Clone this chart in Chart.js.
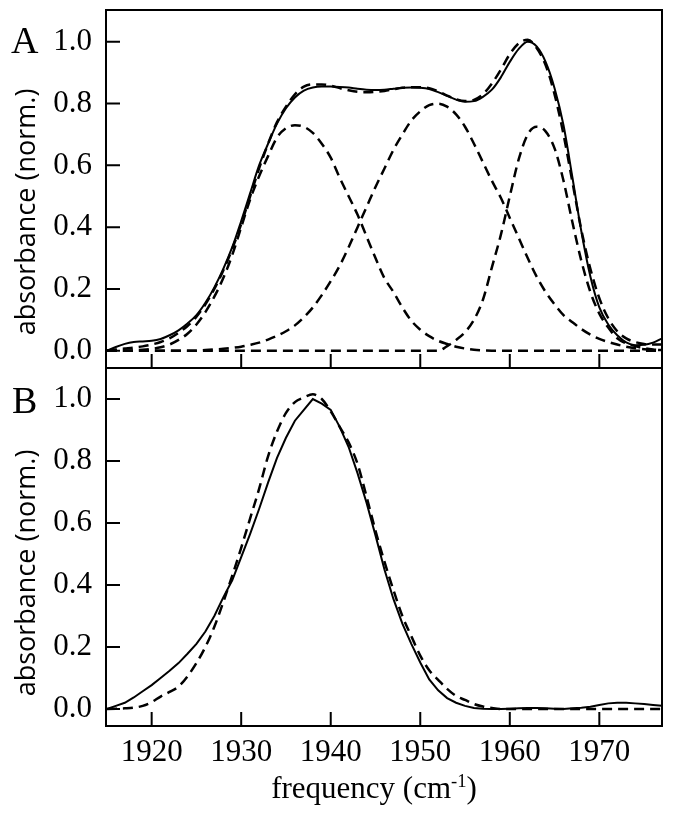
<!DOCTYPE html>
<html>
<head>
<meta charset="utf-8">
<script src="https://cdn.jsdelivr.net/npm/chart.js@4.4.1/dist/chart.umd.min.js"></script>
<style>
  html, body { margin: 0; padding: 0; background: #fff; }
  #fig { position: relative; width: 673px; height: 826px; overflow: hidden; }
  #fig canvas { position: absolute; left: 0; }
  .lbl { position: absolute; color: #000; white-space: nowrap; line-height: 1; }
  .panel { font-family: "Liberation Serif", serif; font-size: 38px; }
  .ytitle { font-family: "Open Sans", sans-serif; font-size: 27px; transform: translate(-50%, -50%) rotate(-90deg); }
  .xtitle { font-family: "Liberation Serif", serif; font-size: 31px; transform: translateX(-50%); }
  .xtitle sup { font-size: 0.6em; line-height: 0; vertical-align: 0.6em; }
</style>
</head>
<body>
<div id="fig">
  <canvas id="chartA" width="673" height="372" style="top:0"></canvas>
  <canvas id="chartB" width="673" height="466" style="top:360px"></canvas>
  <div class="lbl panel" style="left:11px; top:21px">A</div>
  <div class="lbl panel" style="left:12px; top:381px">B</div>
  <div class="lbl ytitle" style="left:24px; top:212px">absorbance (norm.)</div>
  <div class="lbl ytitle" style="left:24px; top:573px">absorbance (norm.)</div>
  <div class="lbl xtitle" style="left:374px; top:772px">frequency (cm<sup>-1</sup>)</div>
</div>
<script>
// 周波数 (cm-1)
const freq = [1915, 1916, 1917, 1918, 1919, 1920, 1921, 1922, 1923, 1924,
  1925, 1926, 1927, 1928, 1929, 1930, 1931, 1932, 1933, 1934,
  1935, 1936, 1937, 1938, 1939, 1940, 1941, 1942, 1943, 1944,
  1945, 1946, 1947, 1948, 1949, 1950, 1951, 1952, 1953, 1954,
  1955, 1956, 1957, 1958, 1959, 1960, 1961, 1962, 1963, 1964,
  1965, 1966, 1967, 1968, 1969, 1970, 1971, 1972, 1973, 1974,
  1975, 1976, 1977]

// パネルA: 測定スペクトル
const absA = [0.0, 0.012, 0.022, 0.028, 0.03, 0.032, 0.038, 0.05, 0.066, 0.088,
  0.115, 0.155, 0.205, 0.265, 0.335, 0.42, 0.51, 0.6, 0.67, 0.735,
  0.785, 0.82, 0.842, 0.852, 0.855, 0.855, 0.854, 0.852, 0.848, 0.845,
  0.844, 0.845, 0.848, 0.851, 0.852, 0.851, 0.847, 0.837, 0.825, 0.813,
  0.806, 0.808, 0.822, 0.845, 0.885, 0.935, 0.977, 1.0, 0.985, 0.935,
  0.85, 0.73, 0.56, 0.385, 0.24, 0.14, 0.085, 0.05, 0.027, 0.018,
  0.019, 0.026, 0.04]

// パネルA: フィット (合計)
const fitA = [0.0, 0.004, 0.007, 0.01, 0.014, 0.02, 0.028, 0.04, 0.058, 0.08,
  0.11, 0.15, 0.2, 0.26, 0.33, 0.41, 0.5, 0.59, 0.67, 0.74,
  0.79, 0.83, 0.855, 0.862, 0.862, 0.858, 0.85, 0.843, 0.838, 0.837,
  0.838, 0.841, 0.846, 0.851, 0.853, 0.853, 0.85, 0.84, 0.826, 0.814,
  0.808, 0.812, 0.83, 0.865, 0.91, 0.96, 0.995, 1.007, 0.98, 0.925,
  0.83, 0.7, 0.545, 0.39, 0.265, 0.17, 0.105, 0.063, 0.04, 0.028,
  0.022, 0.02, 0.02]

// パネルA: 成分バンド
const bandA1 = [0, 0, 0, 0.001, 0.003, 0.006, 0.011, 0.02, 0.035, 0.055,
  0.085, 0.125, 0.175, 0.235, 0.31, 0.4, 0.49, 0.565, 0.63, 0.69,
  0.72, 0.73, 0.725, 0.705, 0.67, 0.625, 0.56, 0.5, 0.44, 0.37,
  0.3, 0.235, 0.19, 0.14, 0.097, 0.068, 0.047, 0.032, 0.022, 0.013,
  0.007, 0.003, 0.001, 0, 0, 0, 0, 0, 0, 0,
  0, 0, 0, 0, 0, 0, 0, 0, 0, 0,
  0, 0, 0]

const bandA2 = [0, 0, 0, 0, 0, 0, 0, 0, 0, 0,
  0, 0.002, 0.004, 0.006, 0.009, 0.013, 0.019, 0.026, 0.036, 0.048,
  0.063, 0.082, 0.108, 0.14, 0.18, 0.225, 0.275, 0.335, 0.4, 0.465,
  0.53, 0.59, 0.65, 0.7, 0.745, 0.775, 0.795, 0.8, 0.79, 0.765,
  0.725, 0.67, 0.61, 0.55, 0.495, 0.43, 0.365, 0.3, 0.24, 0.19,
  0.15, 0.115, 0.092, 0.07, 0.052, 0.038, 0.028, 0.02, 0.013, 0.008,
  0.005, 0.003, 0.002]

const bandA3 = [0, 0, 0, 0, 0, 0, 0, 0, 0, 0,
  0, 0, 0, 0, 0, 0, 0, 0, 0, 0,
  0, 0, 0, 0, 0, 0, 0, 0, 0, 0,
  0, 0, 0, 0, 0, 0, 0, 0, 0.015, 0.035,
  0.06, 0.1, 0.165, 0.27, 0.375, 0.5, 0.62, 0.7, 0.725, 0.71,
  0.655, 0.55, 0.415, 0.29, 0.19, 0.12, 0.075, 0.04, 0.024, 0.015,
  0.008, 0.004, 0.002]

// パネルB: 測定とフィット
const absB = [0.0, 0.01, 0.02, 0.037, 0.057, 0.077, 0.1, 0.123, 0.148, 0.178,
  0.21, 0.25, 0.3, 0.36, 0.415, 0.49, 0.565, 0.645, 0.73, 0.81,
  0.875, 0.93, 0.965, 1.0, 0.985, 0.965, 0.91, 0.845, 0.76, 0.665,
  0.56, 0.45, 0.355, 0.275, 0.21, 0.15, 0.095, 0.06, 0.035, 0.02,
  0.01, 0.003, 0.001, 0, 0, 0.001, 0.002, 0.003, 0.003, 0.002,
  0.001, 0, 0.002, 0.004, 0.007, 0.013, 0.018, 0.02, 0.02, 0.018,
  0.016, 0.013, 0.01]

const fitB = [0, 0.001, 0.002, 0.004, 0.01, 0.022, 0.04, 0.055, 0.072, 0.105,
  0.148, 0.2, 0.265, 0.345, 0.43, 0.52, 0.615, 0.71, 0.815, 0.895,
  0.955, 0.99, 1.005, 1.015, 1.0, 0.96, 0.91, 0.86, 0.79, 0.685,
  0.575, 0.475, 0.384, 0.3, 0.235, 0.172, 0.125, 0.094, 0.065, 0.042,
  0.029, 0.016, 0.008, 0.003, 0, 0, 0, 0, 0, 0,
  0, 0, 0, 0, 0, 0, 0, 0, 0, 0,
  0, 0, 0]

// 目盛ラベル
const xTickLabels = [1920, 1930, 1940, 1950, 1960, 1970]
const yTickLabels = [0.0, 0.2, 0.4, 0.6, 0.8, 1.0]

const serif = "'Liberation Serif', 'Times New Roman', serif"

function pts(ys) {
  return freq.map((x, i) => ({ x, y: ys[i] }))
}

function solid(ys, smooth) {
  return {
    data: pts(ys),
    borderColor: "#000",
    borderWidth: 2,
    pointRadius: 0,
    fill: false,
    cubicInterpolationMode: smooth ? "monotone" : "default",
    tension: 0,
  }
}

function dashed(ys) {
  return {
    data: pts(ys),
    borderColor: "#000",
    borderWidth: 2.5,
    borderDash: [10, 6],
    pointRadius: 0,
    fill: false,
    cubicInterpolationMode: "monotone",
  }
}

// 枠と内向きの目盛
const framePlugin = {
  id: "frame",
  afterDraw(chart) {
    const { ctx, chartArea: a, scales } = chart
    ctx.save()
    ctx.strokeStyle = "#000"
    ctx.lineWidth = 2
    ctx.strokeRect(a.left, a.top, a.right - a.left, a.bottom - a.top)
    ctx.beginPath()
    scales.x.ticks.forEach((t) => {
      if (Math.abs(t.value % 2) > 1e-6) return
      const len = t.value % 10 === 0 ? 14 : 7
      const px = scales.x.getPixelForValue(t.value)
      ctx.moveTo(px, a.bottom)
      ctx.lineTo(px, a.bottom - len)
    })
    scales.y.ticks.forEach((t) => {
      const k = Math.round(t.value * 10)
      if (Math.abs(t.value * 10 - k) > 1e-6 || k < 0 || k > 10) return
      const len = k % 2 === 0 ? 14 : 7
      const py = scales.y.getPixelForValue(t.value)
      ctx.moveTo(a.left, py)
      ctx.lineTo(a.left + len, py)
    })
    ctx.stroke()
    ctx.restore()
  },
}

function makeOptions(showX, yMin, yMax, padTop, padBottom) {
  return {
    responsive: false,
    animation: false,
    layout: { padding: { top: padTop, right: 11, bottom: padBottom, left: 0 } },
    plugins: { legend: { display: false }, tooltip: { enabled: false } },
    scales: {
      x: {
        type: "linear",
        min: 1914.9,
        max: 1977,
        grid: { display: false, drawTicks: false },
        border: { display: false },
        ticks: {
          display: showX,
          stepSize: 2,
          includeBounds: false,
          autoSkip: false,
          maxRotation: 0,
          padding: 8,
          color: "#000",
          font: { family: serif, size: 31 },
          callback: (v) => (xTickLabels.includes(v) ? String(v) : null),
        },
        afterFit: (s) => {
          s.height = showX ? 100 : 0
          s.paddingLeft = 0
          s.paddingRight = 0
        },
      },
      y: {
        min: yMin,
        max: yMax,
        grid: { display: false, drawTicks: false },
        border: { display: false },
        ticks: {
          stepSize: 0.1,
          includeBounds: false,
          autoSkip: false,
          padding: 14,
          color: "#000",
          font: { family: serif, size: 31 },
          callback: (v) => {
            const hit = yTickLabels.find((t) => Math.abs(t - v) < 1e-6)
            return hit === undefined ? null : hit.toFixed(1)
          },
        },
        afterFit: (s) => {
          s.width = 106
          s.paddingTop = 0
          s.paddingBottom = 0
        },
      },
    },
  }
}

new Chart(document.getElementById("chartA"), {
  type: "line",
  data: {
    datasets: [dashed(bandA1), dashed(bandA2), dashed(bandA3), dashed(fitA), solid(absA, true)],
  },
  options: makeOptions(false, -0.056, 1.103, 10, 4),
  plugins: [framePlugin],
})

new Chart(document.getElementById("chartB"), {
  type: "line",
  data: {
    datasets: [dashed(fitB), solid(absB, false)],
  },
  options: makeOptions(true, -0.055, 1.1, 8, 0),
  plugins: [framePlugin],
})
</script>
</body>
</html>
